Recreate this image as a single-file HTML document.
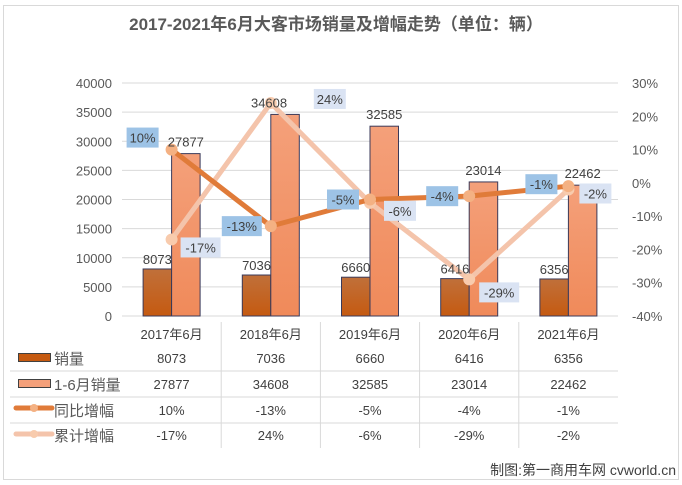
<!DOCTYPE html>
<html><head><meta charset="utf-8"><style>
body{margin:0;background:#fff;}
svg{display:block;font-family:"Liberation Sans","Noto Sans CJK SC",sans-serif;}
</style></head><body>
<svg id="c" width="682" height="485" viewBox="0 0 682 485">
<defs>
<linearGradient id="gd" x1="0" y1="0" x2="0" y2="1"><stop offset="0" stop-color="#c0703a"/><stop offset="1" stop-color="#c55a11"/></linearGradient>
<linearGradient id="gl" x1="0" y1="0" x2="0" y2="1"><stop offset="0" stop-color="#f4a07a"/><stop offset="1" stop-color="#f08a5a"/></linearGradient>
</defs>
<rect x="3.5" y="5.5" width="675" height="474" fill="#fff" stroke="#d9d9d9"/>
<text x="336" y="30" text-anchor="middle" font-size="17" font-weight="bold" fill="#595959">2017-2021年6月大客市场销量及增幅走势（单位：辆）</text>
<g id="grid"></g><g id="bars"></g><g id="lines"></g><g id="labels"></g><g id="table"></g>
<text x="676" y="475" text-anchor="end" font-size="14" fill="#404040">制图:第一商用车网 cvworld.cn</text>
</svg>
<script>
const categories=["2017年6月","2018年6月","2019年6月","2020年6月","2021年6月"];
const sales=[8073,7036,6660,6416,6356];
const cumSales=[27877,34608,32585,23014,22462];
const yoy=[10,-13,-5,-4,-1];
const cumGrowth=[-17,24,-6,-29,-2];
const leftTicks=[0,5000,10000,15000,20000,25000,30000,35000,40000];
const rightTicks=[-40,-30,-20,-10,0,10,20,30];
const NS="http://www.w3.org/2000/svg";
const X0=122,X1=618,Y0=316,Y1=83;
const cw=(X1-X0)/categories.length;
const xc=i=>X0+cw*(i+0.5);
const yL=v=>Y0-(v/40000)*(Y0-Y1);
const yR=v=>Y0-((v+40)/70)*(Y0-Y1);
function el(t,a,p){const e=document.createElementNS(NS,t);for(const k in a)e.setAttribute(k,a[k]);(p||document.getElementById('c')).appendChild(e);return e;}
function tx(x,y,s,a,p,size,fill){const e=el('text',Object.assign({x:x,y:y,'font-size':size||13,fill:fill||'#404040'},a||{}),p);e.textContent=s;return e;}
const G=document.getElementById('grid'),B=document.getElementById('bars'),L=document.getElementById('lines'),LB=document.getElementById('labels'),T=document.getElementById('table');
leftTicks.forEach(v=>{
  const g=el('line',{x1:X0,x2:X1,y1:yL(v),y2:yL(v),stroke:'#d9d9d9'},G);
  
  const t=tx(X0-10,yL(v)+5,String(v),{'text-anchor':'end'},G,13,'#595959');
  
});
rightTicks.forEach(v=>{
  const t=tx(632,yR(v)+5,v+'%',{},G,13,'#595959');
  
});
const bw=28.5;
const cumLblDx=[0,-16,0,0,0];
categories.forEach((c,i)=>{
  const x=xc(i);
  const b1=el('rect',{x:x-bw,y:yL(sales[i]),width:bw,height:Y0-yL(sales[i]),fill:'url(#gd)',stroke:'#3a3a5a','stroke-width':1},B);
  
  const b2=el('rect',{x:x,y:yL(cumSales[i]),width:bw,height:Y0-yL(cumSales[i]),fill:'url(#gl)',stroke:'#3a3a5a','stroke-width':1},B);
  
  const t1=tx(x-bw/2,yL(sales[i])-5,String(sales[i]),{'text-anchor':'middle'},LB,13);
  
  const t2=tx(x+bw/2+cumLblDx[i],yL(cumSales[i])-7,String(cumSales[i]),{'text-anchor':'middle'},LB,13);
  
});
function line(vals,color,w,name){
  const pts=vals.map((v,i)=>xc(i)+','+yR(v)).join(' ');
  const p=el('polyline',{points:pts,fill:'none',stroke:color,'stroke-width':w,'stroke-linejoin':'round'},L);
  
  vals.forEach((v,i)=>{const m=el('circle',{cx:xc(i),cy:yR(v),r:6,fill:name==='line-yoy'?'#f4b183':'#f8cbad'},L);
    });
}
line(cumGrowth,'#f4c4ab',5,'line-cum-growth');
line(yoy,'#e07b39',5,'line-yoy');
function box(cx,cy,s,fill,name){
  const w=s.length*8+8,h=20;
  const r=el('rect',{x:cx-w/2,y:cy-h/2,width:w,height:h,fill:fill},LB);
  
  const t=tx(cx,cy+5,s,{'text-anchor':'middle'},LB,13);
  
}
const yoyOff=[[-29,-12],[-29,0],[-27,0],[-27,0],[-27,-2]];
const cumOff=[[29,8],[59,-4],[30,8],[30,13],[27,4]];
yoy.forEach((v,i)=>box(xc(i)+yoyOff[i][0],yR(v)+yoyOff[i][1],v+'%','#9dc3e6','yoy-label'));
cumGrowth.forEach((v,i)=>box(xc(i)+cumOff[i][0],yR(v)+cumOff[i][1],v+'%','#dae3f3','cum-growth-label'));
[371,397,423].forEach(y=>{const l=el('line',{x1:10,x2:X1,y1:y,y2:y,stroke:'#d9d9d9'},T);});
categories.forEach((c,i)=>{
  if(i>0){const l=el('line',{x1:X0+cw*i,x2:X0+cw*i,y1:322,y2:448,stroke:'#d9d9d9'},T);}
  const t=tx(xc(i),339,c,{'text-anchor':'middle'},T,13);
  const a=tx(xc(i),363,String(sales[i]),{'text-anchor':'middle'},T,13);
  const b=tx(xc(i),389,String(cumSales[i]),{'text-anchor':'middle'},T,13);
  const d=tx(xc(i),415,yoy[i]+'%',{'text-anchor':'middle'},T,13);
  const e=tx(xc(i),440,cumGrowth[i]+'%',{'text-anchor':'middle'},T,13);
});
const k1=el('rect',{x:18.5,y:353.5,width:32,height:8,fill:'#c55a11',stroke:'#404040'},T);
const k2=el('rect',{x:18.5,y:379.5,width:32,height:8,fill:'#f4a07a',stroke:'#404040'},T);
const k3=el('line',{x1:16,x2:52,y1:408,y2:408,stroke:'#e07b39','stroke-width':5,'stroke-linecap':'round'},T);
const k3m=el('circle',{cx:34,cy:408,r:4,fill:'#f4b183'},T);
const k4=el('line',{x1:16,x2:52,y1:434,y2:434,stroke:'#f4c4ab','stroke-width':5,'stroke-linecap':'round'},T);
const k4m=el('circle',{cx:34,cy:434,r:4,fill:'#f8cbad'},T);
[['销量',363],['1-6月销量',389],['同比增幅',415],['累计增幅',440]].forEach(a=>{const t=tx(54,a[1]+1,a[0],{},T,15,'#595959');});
</script>
</body></html>
